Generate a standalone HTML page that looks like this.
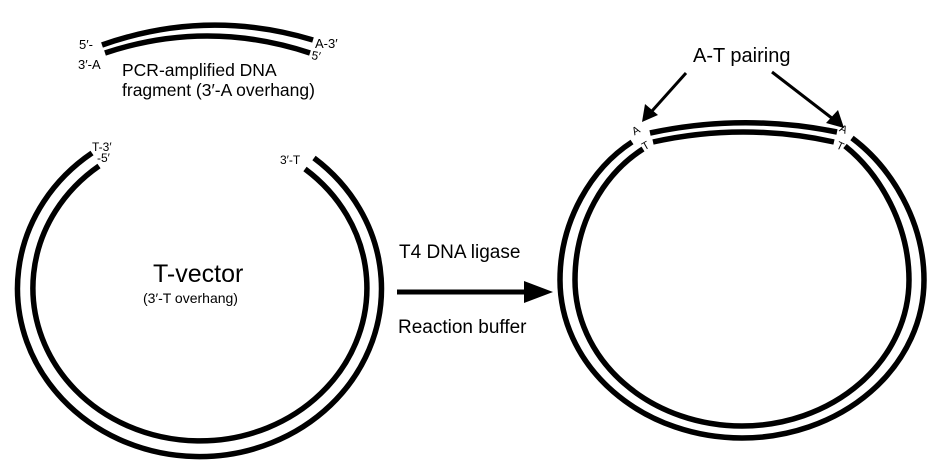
<!DOCTYPE html>
<html><head><meta charset="utf-8"><style>
html,body{margin:0;padding:0;background:#fff;}
svg{display:block;}
text{font-family:"Liberation Sans",Arial,sans-serif;fill:#000;}
</style></head><body>
<svg width="936" height="470" viewBox="0 0 936 470" xmlns="http://www.w3.org/2000/svg">
<g fill="none" stroke="#000" stroke-width="5.5">
  <!-- PCR fragment -->
  <path d="M102 45 Q207 8 313 40"/>
  <path d="M105 53 Q207 19 310 53"/>
  <!-- T-vector -->
  <path d="M92 153 A182 168 0 1 0 314 158"/>
  <path d="M99 166 A167 153 0 1 0 305 169"/>
  <!-- ligated ring -->
  <path d="M632 142 C592 168 560 220 560 280 A182 158 0 0 0 924 280 C924 222 892 168 852 138"/>
  <path d="M643 149 C604 174 575 222 575 280 A167 146 0 0 0 909 280 C909 225 880 174 845 146"/>
  <path d="M650 133 Q743 113 837 132"/>
  <path d="M653 142 Q743 122 834 142"/>
</g>
<!-- reaction arrow -->
<line x1="397" y1="292" x2="528" y2="292" stroke="#000" stroke-width="5"/>
<polygon points="524,281 553,292 524,303" fill="#000"/>
<!-- A-T pairing arrows -->
<line x1="686" y1="73" x2="652" y2="111" stroke="#000" stroke-width="3"/>
<polygon points="642,122 645,104 658,115" fill="#000"/>
<line x1="772" y1="72" x2="833" y2="119" stroke="#000" stroke-width="3"/>
<polygon points="844,128 826,123 838,110" fill="#000"/>
<!-- labels -->
<text x="79" y="49" font-size="13">5′-</text>
<text x="78" y="69" font-size="13">3′-A</text>
<text x="315" y="48" font-size="13">A-3′</text>
<text x="311" y="59" font-size="12" transform="rotate(10 311 59)">5′</text>
<text x="122" y="76" font-size="17.5">PCR-amplified DNA</text>
<text x="122" y="96" font-size="17.5">fragment (3′-A overhang)</text>
<text x="92" y="151" font-size="12">T-3′</text>
<text x="97" y="162" font-size="12">-5′</text>
<text x="280" y="164" font-size="12">3′-T</text>
<text x="153" y="282" font-size="25">T-vector</text>
<text x="143" y="303" font-size="14">(3′-T overhang)</text>
<text x="399" y="258" font-size="19">T4 DNA ligase</text>
<text x="398" y="333" font-size="19">Reaction buffer</text>
<text x="693" y="62" font-size="20">A-T pairing</text>
<text x="632" y="134" font-size="11" transform="rotate(-30 636 130)">A</text>
<text x="642" y="149" font-size="11" transform="rotate(-30 646 145)">T</text>
<text x="840" y="133" font-size="11" transform="rotate(25 844 129)">A</text>
<text x="837" y="150" font-size="11" transform="rotate(25 841 146)">T</text>
</svg>
</body></html>
